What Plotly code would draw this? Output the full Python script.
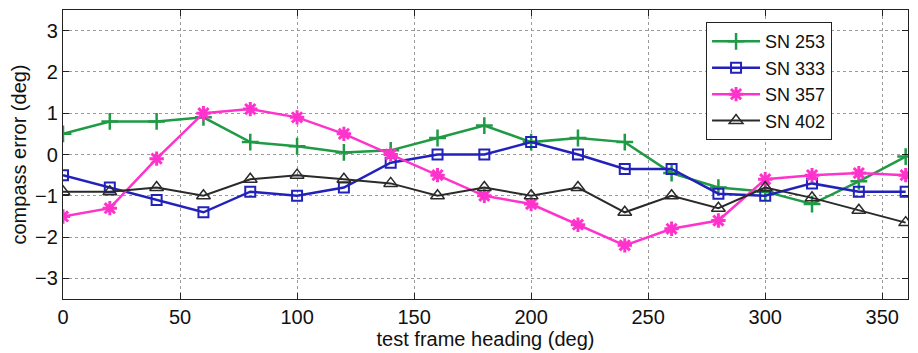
import plotly.graph_objects as go

heading = [0, 20, 40, 60, 80, 100, 120, 140, 160, 180, 200, 220, 240, 260, 280, 300, 320, 340, 360]
sn253 = [0.5, 0.8, 0.8, 0.9, 0.3, 0.2, 0.05, 0.1, 0.4, 0.7, 0.3, 0.4, 0.3, -0.45, -0.8, -0.9, -1.2, -0.65, -0.05]
sn333 = [-0.5, -0.8, -1.1, -1.4, -0.9, -1.0, -0.8, -0.2, 0.0, 0.0, 0.3, 0.0, -0.35, -0.35, -0.95, -1.0, -0.7, -0.9, -0.9]
sn357 = [-1.5, -1.3, -0.1, 1.0, 1.1, 0.9, 0.5, 0.0, -0.5, -1.0, -1.2, -1.7, -2.2, -1.8, -1.6, -0.6, -0.5, -0.45, -0.5]
sn402 = [-0.9, -0.9, -0.8, -1.0, -0.6, -0.5, -0.6, -0.7, -1.0, -0.8, -1.0, -0.8, -1.4, -1.0, -1.3, -0.8, -1.05, -1.35, -1.65]

x_ticks = [0, 50, 100, 150, 200, 250, 300, 350]
y_ticks = [-3, -2, -1, 0, 1, 2, 3]

series = [
    ("SN 253", sn253, "#1f9a45", "cross-thin", 12, 2.5, 2.5),
    ("SN 333", sn333, "#2222bb", "square-open", 10, 2, 2.5),
    ("SN 357", sn357, "#ff33cc", "asterisk", 12, 3, 2.5),
    ("SN 402", sn402, "#2a2a2a", "triangle-up-open", 12, 1.5, 2),
]

fig = go.Figure()
for name, vals, color, sym, size, mlw, lw in series:
    fig.add_trace(go.Scatter(
        x=heading, y=vals, name=name, mode="lines+markers",
        line=dict(color=color, width=lw),
        marker=dict(symbol=sym, size=size, color=color,
                    line=dict(color=color, width=mlw)),
    ))

font_family = "Liberation Sans, Arial, sans-serif"
axis_common = dict(
    showline=True, linecolor="#222", linewidth=1.2, mirror="ticks",
    ticks="inside", ticklen=6, tickcolor="#222",
    showgrid=True, gridcolor="#9a9a9a", griddash="dot", gridwidth=1,
    zeroline=False, automargin=False,
    tickfont=dict(size=20, color="#111", family=font_family),
)

# the page body has an 8px margin, so the figure is offset by 8px
fig.update_layout(
    width=910, height=345,
    margin=dict(l=55, r=10, t=2, b=54),
    paper_bgcolor="white", plot_bgcolor="white",
    font=dict(family=font_family, size=20, color="#111"),
    xaxis=dict(range=[0, 361], tickvals=x_ticks,
               title=dict(text="test frame heading (deg)", standoff=2,
                          font=dict(size=20)),
               **axis_common),
    yaxis=dict(range=[-3.5, 3.5], tickvals=y_ticks,
               title=dict(text="compass error (deg)", standoff=8,
                          font=dict(size=20)),
               **axis_common),
    legend=dict(x=0.761, y=0.958, xanchor="left", yanchor="top",
                bordercolor="#222", borderwidth=1, bgcolor="white",
                font=dict(size=18), tracegroupgap=0, itemwidth=48),
    showlegend=True,
)

fig.write_html("out.html")
